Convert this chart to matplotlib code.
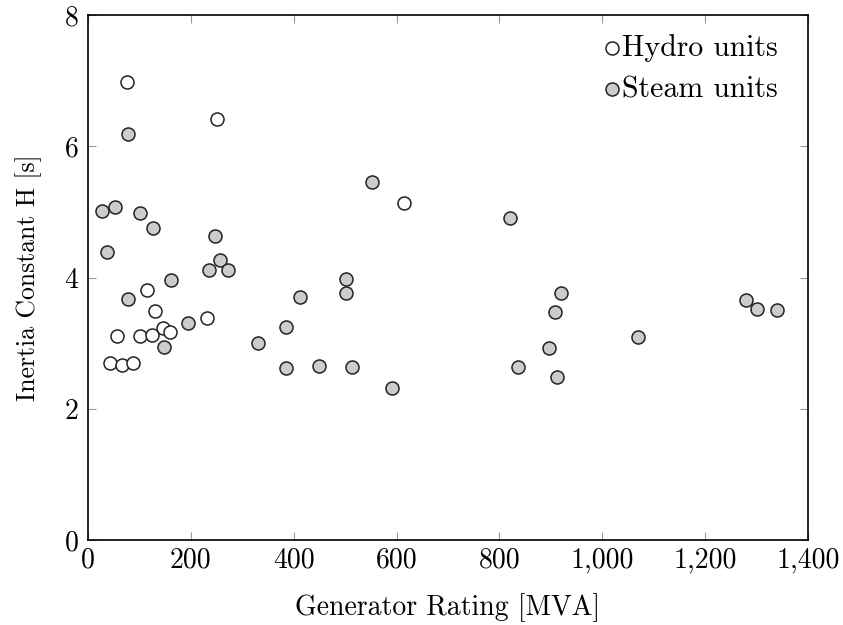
import matplotlib
matplotlib.use("Agg")
import matplotlib.pyplot as plt
from matplotlib.ticker import FuncFormatter

hydro_mva = [75, 250, 615, 115, 130, 232, 145, 160, 56, 102, 125, 42, 67, 87]
hydro_h = [6.98, 6.41, 5.14, 3.81, 3.49, 3.38, 3.23, 3.17, 3.11, 3.11, 3.13, 2.70, 2.67, 2.70]

steam_mva = [77, 27, 53, 102, 127, 37, 247, 257, 235, 272, 161, 78, 194, 148, 331,
             553, 820, 502, 502, 412, 385, 385, 449, 513, 591, 920, 909, 896, 836, 911,
             1070, 1280, 1300, 1340]
steam_h = [6.18, 5.01, 5.07, 4.98, 4.76, 4.39, 4.63, 4.27, 4.12, 4.12, 3.96, 3.67, 3.30, 2.94, 3.00,
           5.45, 4.90, 3.98, 3.76, 3.70, 3.25, 2.62, 2.65, 2.63, 2.32, 3.76, 3.48, 2.93, 2.64, 2.48,
           3.09, 3.66, 3.52, 3.50]

xticks = [0, 200, 400, 600, 800, 1000, 1200, 1400]
yticks = [0, 2, 4, 6, 8]

plt.rcParams['font.family'] = ['cmr10', 'DejaVu Serif']
plt.rcParams['axes.formatter.use_mathtext'] = True

fig = plt.figure(figsize=(8.43, 6.25), dpi=100)
ax = fig.add_axes([88/843, 85/625, 720/843, 525/625])

ms = 88
ax.scatter(hydro_mva, hydro_h, s=ms, facecolor='white', edgecolor='#222222',
           linewidth=1.1, label='Hydro units', zorder=3)
ax.scatter(steam_mva, steam_h, s=ms, facecolor='#cccccc', edgecolor='#222222',
           linewidth=1.1, label='Steam units', zorder=3)

ax.set_xlim(0, 1400)
ax.set_ylim(0, 8)
ax.set_xticks(xticks)
ax.set_yticks(yticks)
ax.xaxis.set_major_formatter(FuncFormatter(lambda v, p: f"{int(v):,}"))
ax.yaxis.set_major_formatter(FuncFormatter(lambda v, p: f"{int(v)}"))
ax.tick_params(direction='in', length=6, width=0.8, color='#999999',
               top=True, right=True, labelsize=20)
ax.tick_params(axis='x', pad=5)
ax.tick_params(axis='y', pad=7)
for sp in ax.spines.values():
    sp.set_linewidth(1.2)
    sp.set_color('black')

ax.set_xlabel('Generator Rating [MVA]', fontsize=20, labelpad=14)
ax.set_ylabel('Inertia Constant H [s]', fontsize=18.5, labelpad=16)

leg = ax.legend(loc='upper right', frameon=False, fontsize=21.5, handletextpad=0.05,
                handlelength=0.6, labelspacing=0.45, borderaxespad=0.25,
                bbox_to_anchor=(0.985, 1.0))

fig.savefig('out.png', dpi=100)
